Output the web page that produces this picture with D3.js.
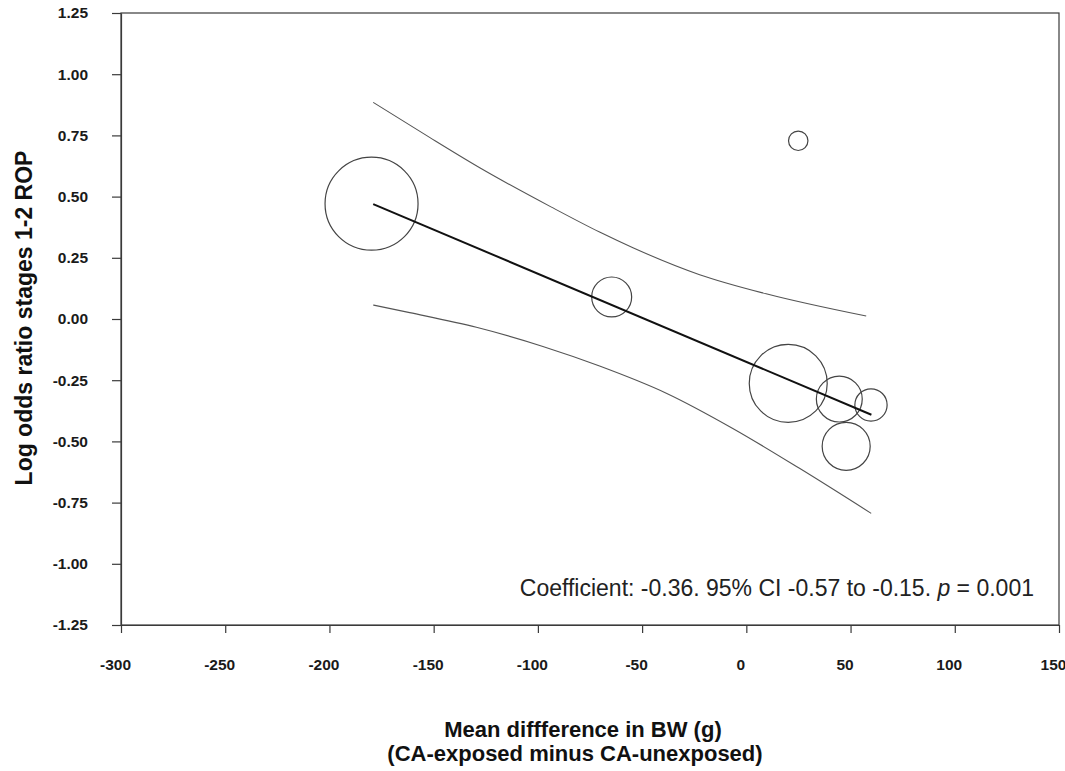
<!DOCTYPE html>
<html>
<head>
<meta charset="utf-8">
<script src="https://cdn.jsdelivr.net/npm/d3@7"></script>
<style>
  html, body { margin: 0; padding: 0; background: #fff; }
  svg { display: block; font-family: "Liberation Sans", Arial, sans-serif; }
</style>
</head>
<body>
<svg id="chart" width="1065" height="771"></svg>
<script>
// Study-level points: mean BW difference (g), log odds ratio, relative weight (%)
const studyBW = [-179.8, -64.6, 24.9, 20.1, 44.6, 59.8, 47.9];
const studyLogOR = [0.471, 0.090, 0.728, -0.263, -0.327, -0.351, -0.520];
const studyWeight = [39.0, 7.2, 1.7, 27.4, 9.5, 4.7, 10.4];

// Meta-regression fit: slope per 100 g, intercept, and the fitted x-range
const fitSlopePer100 = -0.36;
const fitIntercept = -0.175;
const fitRange = [-179, 60];

// 95% confidence band, upper and lower curves
const ciUpperX = [-179.0, -153.5, -127.9, -93.5, -70.4, -54.4, -22.4, 9.5, 57.5];
const ciUpperY = [0.885, 0.750, 0.618, 0.457, 0.355, 0.291, 0.181, 0.103, 0.012];
const ciLowerX = [-179.0, -161.5, -129.5, -97.6, -70.4, -38.4, -6.5, 25.5, 59.9];
const ciLowerY = [0.057, 0.026, -0.034, -0.112, -0.192, -0.303, -0.447, -0.610, -0.794];

// Axis ticks
const xTicks = [-300, -250, -200, -150, -100, -50, 0, 50, 100, 150];
const yTicks = [1.25, 1.00, 0.75, 0.50, 0.25, 0.00, -0.25, -0.50, -0.75, -1.00, -1.25];

const svg = d3.select("#chart");
const plot = { left: 121, right: 1059, top: 13, bottom: 625 };

const x = d3.scaleLinear().domain([-300, 150]).range([plot.left, plot.right]);
const y = d3.scaleLinear().domain([-1.25, 1.25]).range([plot.bottom, plot.top]);
const r = d3.scaleSqrt().domain([0, 39.0]).range([0, 46.5]);

const axisColor = "#3a3a3a";

// Plot frame
svg.append("rect")
  .attr("x", plot.left).attr("y", plot.top)
  .attr("width", plot.right - plot.left).attr("height", plot.bottom - plot.top)
  .attr("fill", "none").attr("stroke", axisColor).attr("stroke-width", 1.2);

// X axis
const gx = svg.append("g")
  .attr("transform", `translate(0,${plot.bottom})`)
  .call(d3.axisBottom(x).tickValues(xTicks).tickFormat(d3.format("d"))
    .tickSize(8).tickPadding(26).tickSizeOuter(0));
gx.select(".domain").attr("stroke", axisColor).attr("stroke-width", 1.2);
gx.selectAll(".tick line").attr("stroke", axisColor).attr("stroke-width", 1.2);
gx.selectAll(".tick text")
  .attr("dx", -6)
  .attr("fill", "#1a1a1a")
  .style("font-size", "15.5px").style("font-weight", "bold")
  .text(d => d3.format("d")(d).replace("−", "-"));

// Y axis
const gy = svg.append("g")
  .attr("transform", `translate(${plot.left},0)`)
  .call(d3.axisLeft(y).tickValues(yTicks).tickFormat(d3.format(".2f"))
    .tickSize(9).tickPadding(24).tickSizeOuter(0));
gy.select(".domain").attr("stroke", axisColor).attr("stroke-width", 1.2);
gy.selectAll(".tick line").attr("stroke", axisColor).attr("stroke-width", 1.2);
gy.selectAll(".tick text")
  .attr("fill", "#1a1a1a")
  .style("font-size", "15.5px").style("font-weight", "bold")
  .text(d => d3.format(".2f")(d).replace("−", "-"));

// Confidence band curves
const line = d3.line().x(d => x(d[0])).y(d => y(d[1])).curve(d3.curveMonotoneX);
const upper = ciUpperX.map((v, i) => [v, ciUpperY[i]]);
const lower = ciLowerX.map((v, i) => [v, ciLowerY[i]]);
[upper, lower].forEach(pts => {
  svg.append("path").datum(pts)
    .attr("d", line)
    .attr("fill", "none").attr("stroke", "#555").attr("stroke-width", 1.1);
});

// Bubbles, area proportional to study weight
svg.append("g").selectAll("circle")
  .data(studyBW.map((v, i) => ({ bw: v, lor: studyLogOR[i], w: studyWeight[i] })))
  .join("circle")
  .attr("cx", d => x(d.bw))
  .attr("cy", d => y(d.lor))
  .attr("r", d => r(d.w))
  .attr("fill", "none").attr("stroke", "#444").attr("stroke-width", 1.2);

// Fitted regression line
const fit = fitRange.map(v => [v, fitIntercept + fitSlopePer100 / 100 * v]);
svg.append("path").datum(fit)
  .attr("d", d3.line().x(d => x(d[0])).y(d => y(d[1])))
  .attr("fill", "none").attr("stroke", "#111").attr("stroke-width", 2);

// Annotation
const note = svg.append("text")
  .attr("x", 1034).attr("y", 596)
  .attr("text-anchor", "end")
  .attr("fill", "#222")
  .style("font-size", "23px");
note.append("tspan").text("Coefficient: -0.36. 95% CI -0.57 to -0.15. ");
note.append("tspan").style("font-style", "italic").text("p");
note.append("tspan").text(" = 0.001");

// Axis titles
svg.append("text")
  .attr("x", 583).attr("y", 737)
  .attr("text-anchor", "middle").attr("fill", "#111")
  .style("font-size", "22px").style("font-weight", "bold")
  .text("Mean diffference in BW (g)");
svg.append("text")
  .attr("x", 575).attr("y", 761)
  .attr("text-anchor", "middle").attr("fill", "#111")
  .style("font-size", "22px").style("font-weight", "bold")
  .text("(CA-exposed minus CA-unexposed)");

svg.append("text")
  .attr("transform", `translate(32,318) rotate(-90)`)
  .attr("text-anchor", "middle").attr("fill", "#111")
  .style("font-size", "23px").style("font-weight", "bold")
  .text("Log odds ratio stages 1-2 ROP");
</script>
</body>
</html>
